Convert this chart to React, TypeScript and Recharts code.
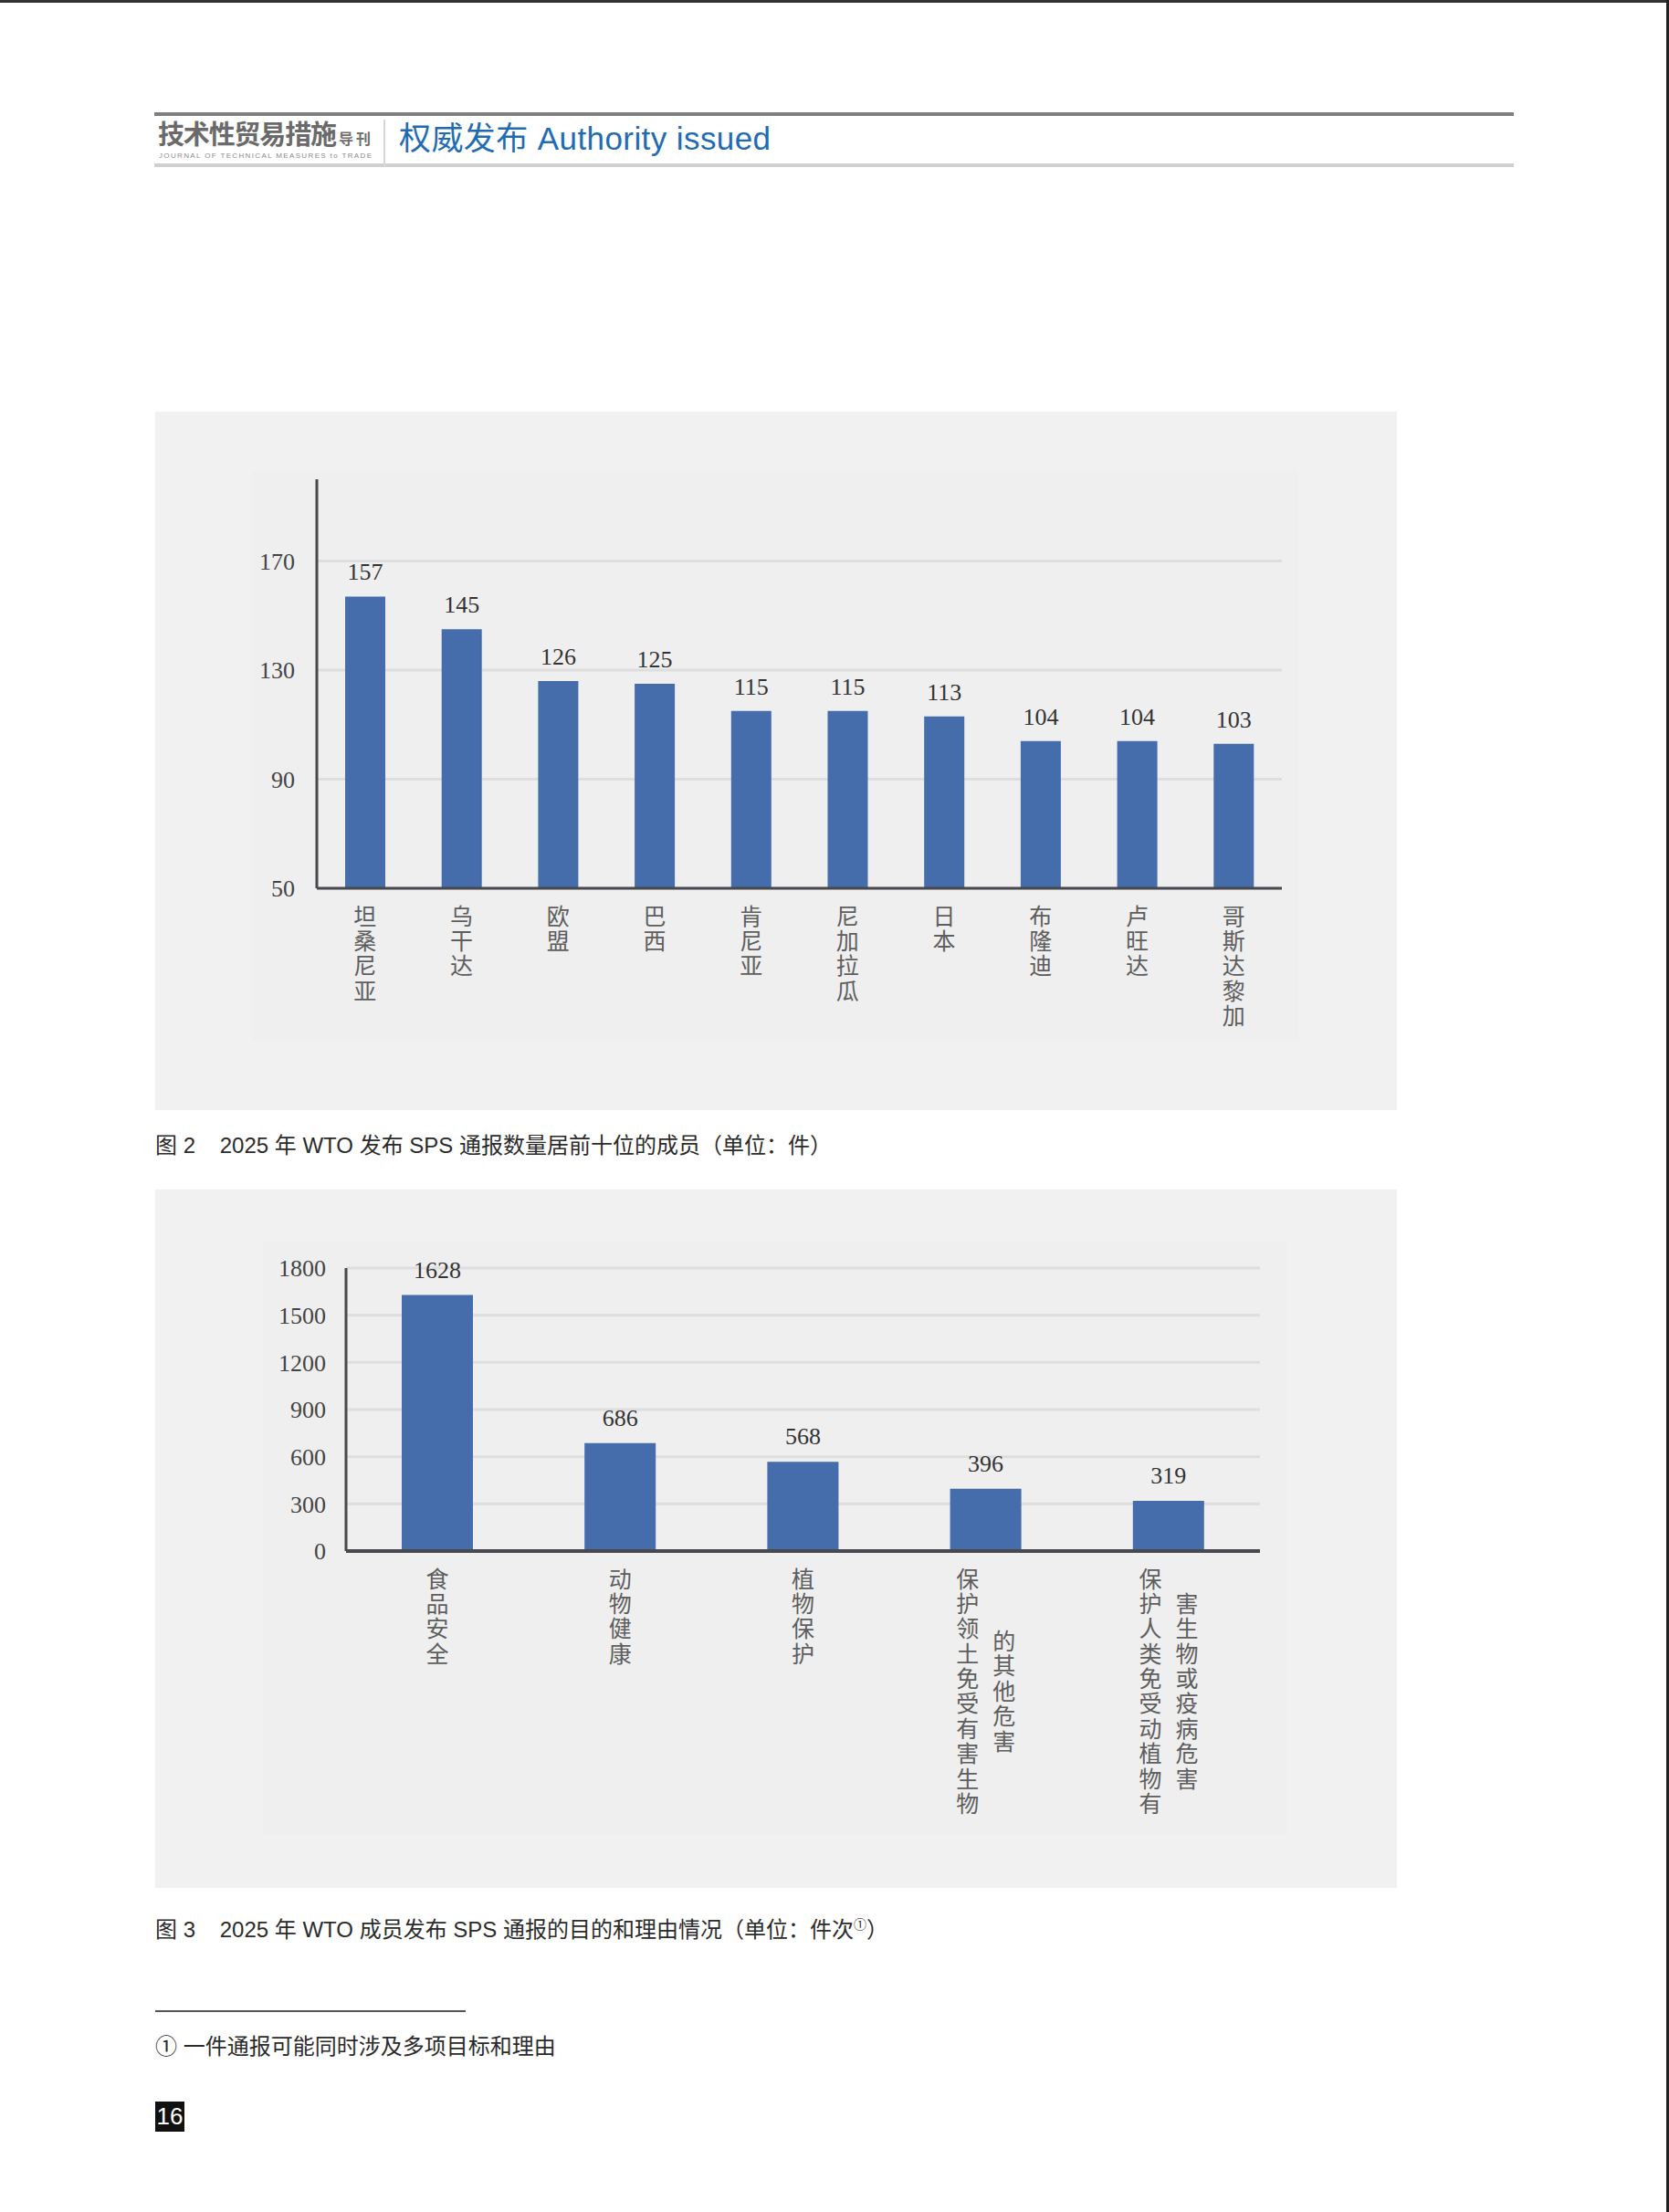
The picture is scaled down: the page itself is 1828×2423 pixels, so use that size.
import React from 'react';
import { BarChart, Bar, XAxis, YAxis, CartesianGrid, LabelList } from 'recharts';

// 图2 members with most SPS notifications
const members = ['坦桑尼亚', '乌干达', '欧盟', '巴西', '肯尼亚', '尼加拉瓜', '日本', '布隆迪', '卢旺达', '哥斯达黎加'];
const memberCounts = [157, 145, 126, 125, 115, 115, 113, 104, 104, 103];
const memberTicks = [50, 90, 130, 170];

// 图3 purposes of notifications ("\n" splits a label into columns)
const purposes = ['食品安全', '动物健康', '植物保护', '保护领土免受有害生物\n的其他危害', '保护人类免受动植物有\n害生物或疫病危害'];
const purposeCounts = [1628, 686, 568, 396, 319];
const purposeTicks = [0, 300, 600, 900, 1200, 1500, 1800];

const BAR = '#466dab';
const SERIF = '"Liberation Serif", "DejaVu Serif", serif';
const CJK = '"Noto Sans CJK SC", sans-serif';
const TEXT = '"Liberation Sans", "Noto Sans CJK SC", sans-serif';

// vertical (stacked) category labels, one text per column
function StackedTick({ x, y, payload }: any) {
  const cols = String(payload.value).split('\n');
  const longest = Math.max(...cols.map((c) => c.length));
  const size = 25;
  const gap = 2.4;
  const step = size + gap;
  const colGap = 40;
  return (
    <g>
      {cols.map((col, ci) => {
        const cx = x + (ci - (cols.length - 1) / 2) * colGap;
        const shift = ((longest - col.length) * step) / 2;
        return (
          <text
            key={ci}
            x={cx}
            y={y + 30 - size / 2 + shift}
            fontSize={size}
            fill="#5e5e5e"
            fontFamily={CJK}
            style={{ writingMode: 'vertical-rl', letterSpacing: gap }}
          >
            {col}
          </text>
        );
      })}
    </g>
  );
}

function Panel({ top, height, inner }: { top: number; height: number; inner: [number, number, number, number] }) {
  return (
    <>
      <div style={{ position: 'absolute', left: 170, top, width: 1360, height, background: '#f1f1f1' }} />
      <div
        style={{
          position: 'absolute',
          left: inner[0],
          top: inner[1],
          width: inner[2] - inner[0],
          height: inner[3] - inner[1],
          background: '#efefef',
        }}
      />
    </>
  );
}

function MembersChart() {
  const data = members.map((name, i) => ({ name, value: memberCounts[i] }));
  return (
    <div style={{ position: 'absolute', left: 170, top: 451 }}>
      <BarChart width={1360} height={765} data={data} margin={{ top: 74, right: 126, left: 0, bottom: 0 }}>
        <CartesianGrid vertical={false} stroke="#dedede" strokeWidth={3} horizontalValues={memberTicks} />
        <XAxis
          dataKey="name"
          interval={0}
          height={243}
          tickSize={0}
          tickMargin={0}
          tick={<StackedTick />}
          axisLine={{ stroke: '#48484f', strokeWidth: 3 }}
          tickLine={false}
        />
        <YAxis
          width={177}
          domain={[50, 200]}
          ticks={memberTicks}
          allowDataOverflow
          tickSize={0}
          tickMargin={24}
          tickLine={false}
          axisLine={{ stroke: '#48484f', strokeWidth: 3 }}
          tick={{ fontSize: 26, fill: '#444', fontFamily: SERIF }}
        />
        <Bar dataKey="value" fill={BAR} barSize={44} isAnimationActive={false}>
          <LabelList dataKey="value" position="top" offset={18} fill="#333" fontSize={26} fontFamily={SERIF} />
        </Bar>
      </BarChart>
    </div>
  );
}

function PurposesChart() {
  const data = purposes.map((name, i) => ({ name, value: purposeCounts[i] }));
  return (
    <div style={{ position: 'absolute', left: 170, top: 1303 }}>
      <BarChart width={1360} height={765} data={data} margin={{ top: 86, right: 150, left: 0, bottom: 0 }}>
        <CartesianGrid vertical={false} stroke="#dedede" strokeWidth={3} horizontalValues={purposeTicks} />
        <XAxis
          dataKey="name"
          interval={0}
          height={369}
          tickSize={0}
          tickMargin={0}
          tick={<StackedTick />}
          axisLine={{ stroke: '#48484f', strokeWidth: 4 }}
          tickLine={false}
        />
        <YAxis
          width={209}
          domain={[0, 1800]}
          ticks={purposeTicks}
          tickSize={0}
          tickMargin={22}
          tickLine={false}
          axisLine={{ stroke: '#48484f', strokeWidth: 3 }}
          tick={{ fontSize: 26, fill: '#444', fontFamily: SERIF }}
        />
        <Bar dataKey="value" fill={BAR} barSize={78} isAnimationActive={false}>
          <LabelList dataKey="value" position="top" offset={19} fill="#333" fontSize={26} fontFamily={SERIF} />
        </Bar>
      </BarChart>
    </div>
  );
}

function Header() {
  return (
    <>
      <div style={{ position: 'absolute', left: 169, top: 123, width: 1489, height: 4, background: '#7f7f7f' }} />
      <div style={{ position: 'absolute', left: 169, top: 179, width: 1489, height: 4, background: '#d0d0d0' }} />
      <div style={{ position: 'absolute', left: 420, top: 131, width: 2, height: 52, background: '#d6d6d6' }} />
      <svg style={{ position: 'absolute', left: 0, top: 0 }} width={1828} height={200}>
        <text x={173} y={158} fontSize={29} fontWeight={700} fill="#6a6a6a" fontFamily={CJK} textLength={196}>
          技术性贸易措施
        </text>
        <text x={371} y={158} fontSize={16} fontWeight={700} fill="#707070" fontFamily={CJK} textLength={35}>
          导刊
        </text>
        <text x={174} y={173} fontSize={8} fill="#8a8a8a" fontFamily={TEXT} textLength={233}>
          JOURNAL OF TECHNICAL MEASURES to TRADE
        </text>
        <text x={437} y={164} fontSize={35} fill="#1f6cb4" fontFamily={TEXT} textLength={407}>
          权威发布 Authority issued
        </text>
      </svg>
    </>
  );
}

const captionStyle: React.CSSProperties = {
  position: 'absolute',
  left: 170,
  fontSize: 24,
  lineHeight: '30px',
  color: '#2b2b2b',
  fontFamily: TEXT,
  whiteSpace: 'pre',
};

export default function App() {
  return (
    <div style={{ position: 'relative', width: 1828, height: 2423, background: '#fff', overflow: 'hidden' }}>
      <style>{'body{margin:0}'}</style>
      <div style={{ position: 'absolute', left: 0, top: 0, width: 1828, height: 3, background: '#333' }} />
      <div style={{ position: 'absolute', left: 1825, top: 0, width: 3, height: 2423, background: '#222' }} />
      <Header />

      <Panel top={451} height={765} inner={[276, 516, 1422, 1139]} />
      <MembersChart />
      <div style={{ ...captionStyle, top: 1240 }}>{'图 2    2025 年 WTO 发布 SPS 通报数量居前十位的成员（单位：件）'}</div>

      <Panel top={1303} height={765} inner={[288, 1360, 1410, 2010]} />
      <PurposesChart />
      <div style={{ ...captionStyle, top: 2093 }}>
        {'图 3    2025 年 WTO 成员发布 SPS 通报的目的和理由情况（单位：件次'}
        <sup style={{ fontSize: 14 }}>①</sup>
        {'）'}
      </div>

      <div style={{ position: 'absolute', left: 170, top: 2202, width: 340, height: 2, background: '#555' }} />
      <div style={{ ...captionStyle, top: 2227 }}>{'① 一件通报可能同时涉及多项目标和理由'}</div>
      <div
        style={{
          position: 'absolute',
          left: 170,
          top: 2302,
          width: 32,
          height: 33,
          background: '#111',
          color: '#fff',
          fontSize: 26,
          lineHeight: '33px',
          textAlign: 'center',
          fontFamily: TEXT,
        }}
      >
        16
      </div>
    </div>
  );
}
